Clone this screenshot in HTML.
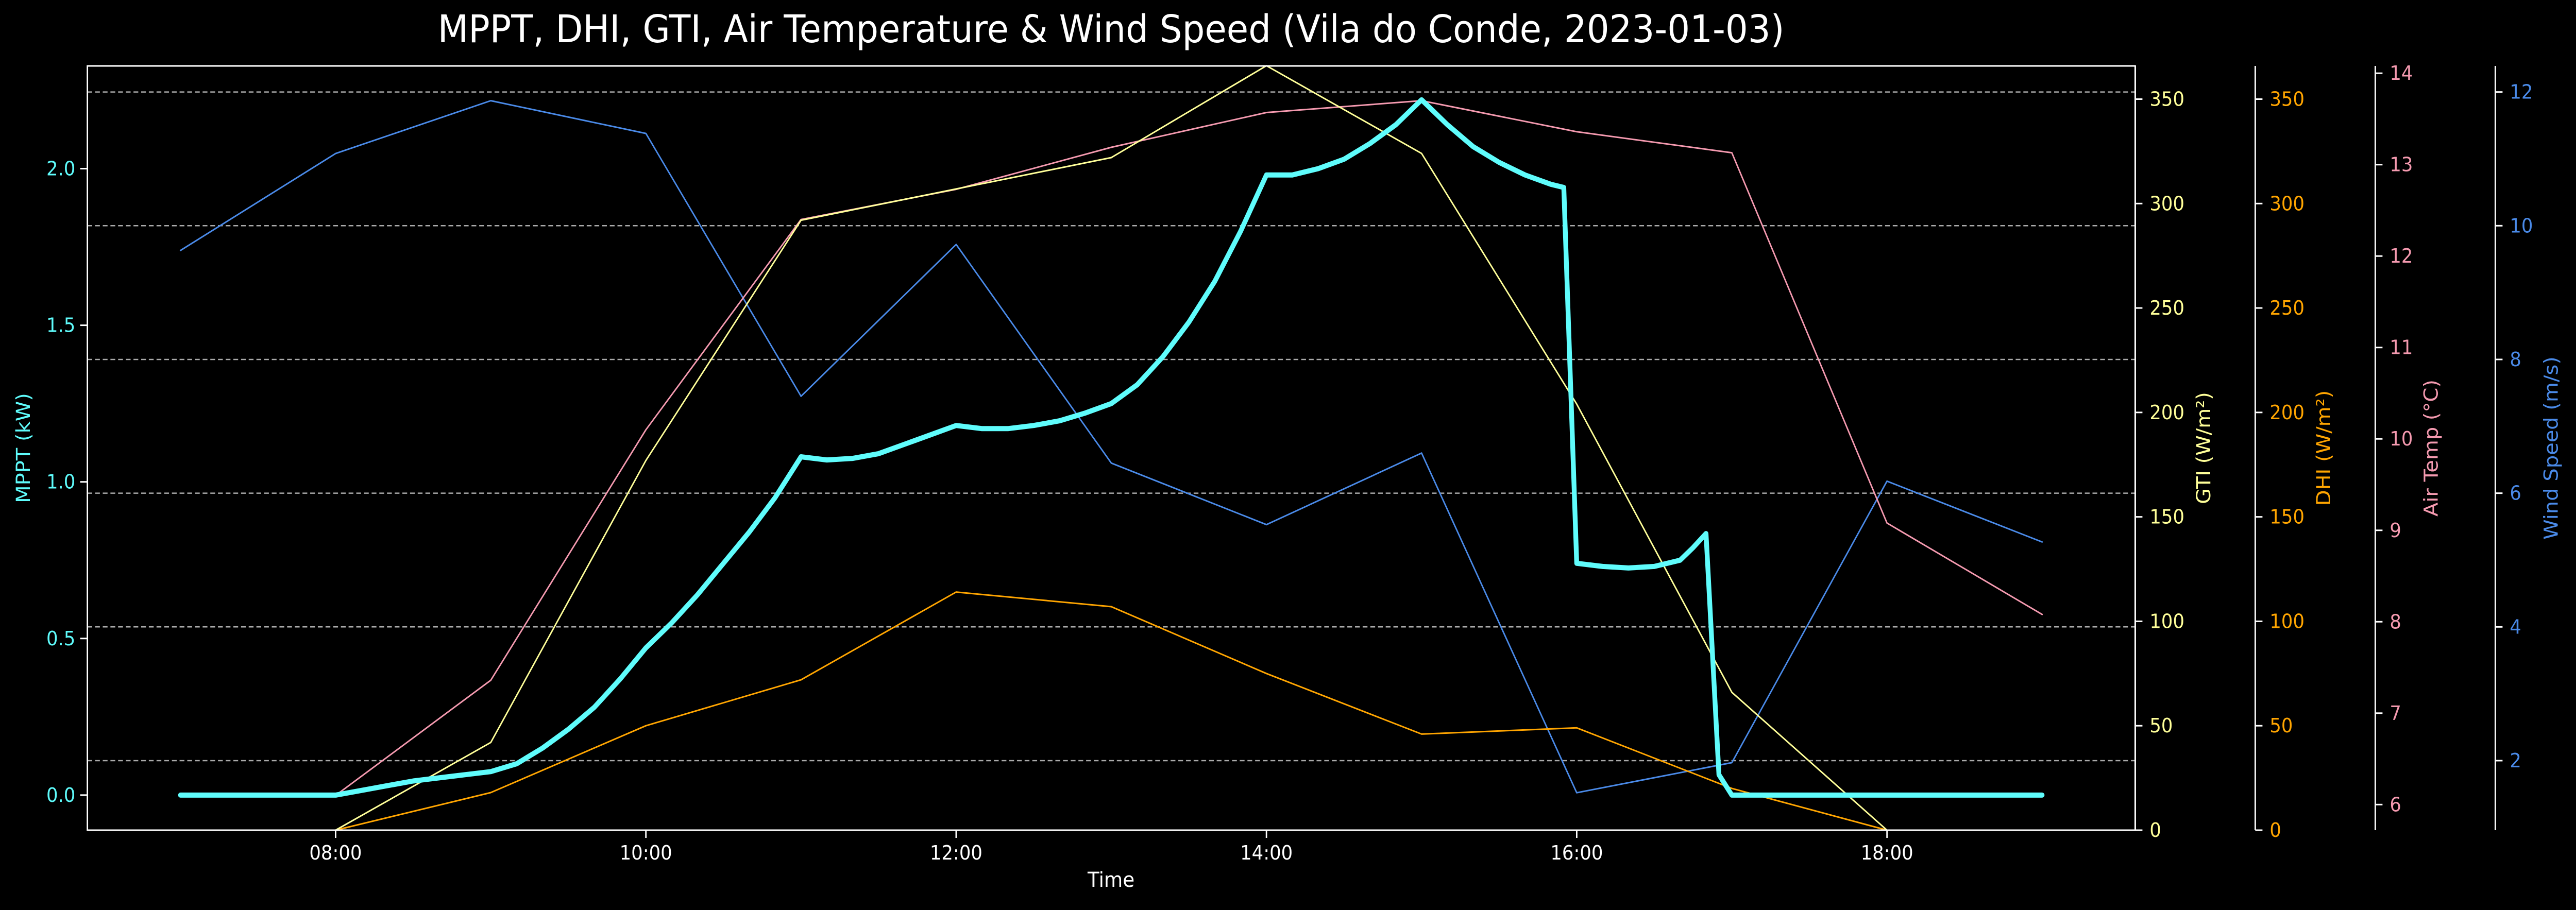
<!DOCTYPE html>
<html><head><meta charset="utf-8"><style>
html,body{margin:0;padding:0;background:#000;overflow:hidden;width:100%;height:100%;}
svg{display:block;width:100vw;height:100vh;font-family:"DejaVu Sans","Liberation Sans",sans-serif;}
</style></head><body>
<svg id="chart" viewBox="0 0 5365 1767" preserveAspectRatio="none" xmlns="http://www.w3.org/2000/svg">
<rect x="0" y="0" width="5365" height="1767" fill="#000"/>
<text x="2314" y="82" fill="#fff" font-size="74" text-anchor="middle">MPPT, DHI, GTI, Air Temperature &amp; Wind Speed (Vila do Conde, 2023-01-03)</text>
<g id="grid"></g>
<g id="series"></g>
<g id="axes"></g>
</svg>
<script>
const hours = [7,8,9,10,11,12,13,14,15,16,17,18,19];
const hourLabels = ["08:00","10:00","12:00","14:00","16:00","18:00"];
const hourTicks = [8,10,12,14,16,18];
const gtiValues = [0,0,42,177,292,307,322,366,324,204,66,0,0];
const dhiValues = [0,0,18,50,72,114,107,75,46,49,20,0,0];
const tempValues = [6.1,6.1,7.36,10.1,12.4,12.73,13.19,13.57,13.7,13.36,13.13,9.08,8.08];
const windValues = [9.63,11.08,11.87,11.38,7.45,9.72,6.45,5.53,6.6,1.52,1.97,6.18,5.27];
const mpptTimes = [7,8,8+1/6,8+2/6,8.5,8+4/6,8+5/6,9,9+1/6,9+2/6,9.5,9+4/6,9+5/6,10,10+1/6,10+2/6,10.5,10+4/6,10+5/6,11,11+1/6,11+2/6,11.5,11+4/6,11+5/6,12,12+1/6,12+2/6,12.5,12+4/6,12+5/6,13,13+1/6,13+2/6,13.5,13+4/6,13+5/6,14,14+1/6,14+2/6,14.5,14+4/6,14+5/6,15,15+1/6,15+2/6,15.5,15+4/6,15+5/6,15+55/60,16,16+1/6,16+2/6,16.5,16+4/6,16.75,16+5/6,16+55/60,17,18,19];
const mpptValues = [0,0,0.015,0.03,0.045,0.055,0.065,0.075,0.10,0.15,0.21,0.28,0.37,0.47,0.55,0.64,0.74,0.84,0.95,1.08,1.07,1.075,1.09,1.12,1.15,1.18,1.17,1.17,1.18,1.195,1.22,1.25,1.31,1.40,1.51,1.64,1.80,1.98,1.98,2.00,2.03,2.08,2.14,2.22,2.14,2.07,2.02,1.98,1.95,1.94,0.74,0.73,0.725,0.73,0.75,0.79,0.835,0.065,0,0,0];
const mpptTicks = [0,0.5,1,1.5,2];
const mpptTickLabels = ["0.0","0.5","1.0","1.5","2.0"];
const irrTicks = [0,50,100,150,200,250,300,350];
const tempTicks = [6,7,8,9,10,11,12,13,14];
const windTicks = [2,4,6,8,10,12];

const NS="http://www.w3.org/2000/svg";
const L=182,R=4447,T=128,B=1612;
const x=h=>L+(h-6.4)/(19.6-6.4)*(R-L);
const lin=(a,b)=>v=>B-(v-a)/(b-a)*(B-T);
const yM=lin(-0.112,2.328), yG=lin(0,365.9), yD=lin(0,365.9), yT=lin(5.72,14.08), yW=lin(0.96,12.39);
function mk(tag,attrs,parent){const e=document.createElementNS(NS,tag);for(const k in attrs)e.setAttribute(k,attrs[k]);parent.appendChild(e);return e;}
const grid=document.getElementById('grid'),ser=document.getElementById('series'),ax=document.getElementById('axes');
windTicks.forEach(v=>{const l=mk('line',{x1:L,x2:R,y1:yW(v),y2:yW(v),stroke:'#aaa','stroke-width':2.5,'stroke-dasharray':'10,6'},grid);

});
function line(xs,ys,fy,color,w,name){const d=xs.map((h,i)=>(i?'L':'M')+x(h).toFixed(1)+','+fy(ys[i]).toFixed(1)).join('');
const p=mk('path',{d:d,fill:'none',stroke:color,'stroke-width':w,'stroke-linejoin':'round','stroke-linecap':'round'},ser);

}
line(hours,windValues,yW,'#4a8ae8',3,'wind-speed-line');
line(hours,tempValues,yT,'#f59ab0',3,'air-temp-line');
line(hours,dhiValues,yD,'#ffa500',3,'dhi-line');
line(hours,gtiValues,yG,'#ffff99',3,'gti-line');
line(mpptTimes,mpptValues,yM,'#5ffcfc',10,'mppt-line');
const fr=mk('rect',{x:L,y:T,width:R-L,height:B-T,fill:'none',stroke:'#fff','stroke-width':3},ax);


function txt(s,xx,yy,attrs,name){const t=mk('text',Object.assign({x:xx,y:yy,'font-size':38},attrs),ax);t.textContent=s;

return t;}
hourTicks.forEach((h,i)=>{mk('line',{x1:x(h),x2:x(h),y1:B,y2:B+15,stroke:'#fff','stroke-width':3},ax);
txt(hourLabels[i],x(h),B+57,{fill:'#fff','text-anchor':'middle'},'x-tick-label');});
txt('Time',2314,1722,{fill:'#fff','text-anchor':'middle','font-size':40},'x-axis-title');
mpptTicks.forEach((v,i)=>{mk('line',{x1:L-15,x2:L,y1:yM(v),y2:yM(v),stroke:'#fff','stroke-width':3},ax);
txt(mpptTickLabels[i],L-25,yM(v)+13,{fill:'#5ffcfc','text-anchor':'end'},'mppt-tick-label');});
txt('MPPT (kW)',62,870,{fill:'#5ffcfc','text-anchor':'middle','font-size':40,transform:'rotate(-90 62 870)'},'mppt-axis-title');
function rAxis(px,ticks,fy,color,title,tx,name){
 const s=mk('line',{x1:px,x2:px,y1:T,y2:B,stroke:'#fff','stroke-width':3},ax);
 
 
 ticks.forEach(v=>{mk('line',{x1:px,x2:px+15,y1:fy(v),y2:fy(v),stroke:'#fff','stroke-width':3},ax);
 txt(String(v),px+30,fy(v)+13,{fill:color},name+'-tick-label');});
 txt(title,tx,870,{fill:color,'text-anchor':'middle','font-size':40,transform:'rotate(-90 '+tx+' 870)'},name+'-axis-title');}
rAxis(4447,irrTicks,yG,'#ffff99','GTI (W/m²)',4603,'gti');
rAxis(4697,irrTicks,yD,'#ffa500','DHI (W/m²)',4853,'dhi');
rAxis(4947,tempTicks,yT,'#f59ab0','Air Temp (°C)',5077,'air-temp');
rAxis(5197,windTicks,yW,'#4a8ae8','Wind Speed (m/s)',5327,'wind-speed');
</script>
</body></html>
